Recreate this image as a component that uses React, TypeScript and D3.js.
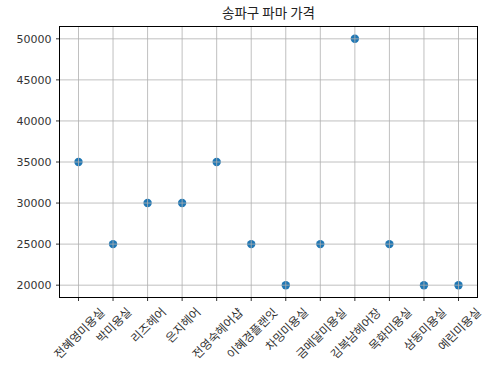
import React from "react";
import * as d3 from "d3";

const categories = [
  "전혜영미용실", "박미용실", "리즈헤어", "은지헤어", "전영숙헤어샵", "이혜경플랜잇",
  "차밍미용실", "금메달미용실", "김복남헤어장", "목화미용실", "삼동미용실", "예린미용실",
];
const prices = [35000, 25000, 30000, 30000, 35000, 25000, 20000, 25000, 50000, 25000, 20000, 20000];
const yTicks = [20000, 25000, 30000, 35000, 40000, 45000, 50000];
const title = "송파구 파마 가격";

const W = 501, H = 376;
const M = { left: 59.5, right: 477.5, top: 26.5, bottom: 297.5 };
const KFONT = "'Noto Sans CJK KR', sans-serif";
const NFONT = "'DejaVu Sans', sans-serif";

export default function App() {
  const n = categories.length;
  const x = d3.scaleLinear().domain([-0.55, n - 1 + 0.55]).range([M.left, M.right]);
  const yMin = d3.min(prices)!, yMax = d3.max(prices)!;
  const pad = (yMax - yMin) * 0.05;
  const y = d3.scaleLinear().domain([yMin - pad, yMax + pad]).range([M.bottom, M.top]);
  const fs = 11.8;
  return (
    <svg width={W} height={H} style={{ position: "absolute", left: 0, top: 0, background: "#fff" }}>
      <text x={(M.left + M.right) / 2} y={18} textAnchor="middle" fontSize={13.5} fill="#222" fontFamily={KFONT}>{title}</text>
      {prices.map((v, i) => (
        <circle key={i} cx={x(i)} cy={y(v)} r={4.2} fill="#1f77b4" />
      ))}
      {categories.map((_, i) => (
        <line key={"gx" + i} x1={x(i)} x2={x(i)} y1={M.top} y2={M.bottom} stroke="#b0b0b0" strokeWidth={0.8} />
      ))}
      {yTicks.map((t) => (
        <line key={"gy" + t} x1={M.left} x2={M.right} y1={y(t)} y2={y(t)} stroke="#b0b0b0" strokeWidth={0.8} />
      ))}
      <rect x={M.left} y={M.top} width={M.right - M.left} height={M.bottom - M.top} fill="none" stroke="#000" strokeWidth={1} />
      {yTicks.map((t) => (
        <g key={"ty" + t}>
          <line x1={M.left - 3.5} x2={M.left} y1={y(t)} y2={y(t)} stroke="#000" strokeWidth={0.8} />
          <text x={M.left - 8} y={y(t)} dy="0.36em" textAnchor="end" fontSize={11} fill="#333" fontFamily={NFONT}>{t}</text>
        </g>
      ))}
      {categories.map((c, i) => {
        const w = c.length * fs;
        const half = ((w + fs * 1.2) * Math.SQRT1_2) / 2;
        const cx = x(i);
        const cy = M.bottom + 5 + half;
        return (
          <g key={"tx" + i}>
            <line x1={cx} x2={cx} y1={M.bottom} y2={M.bottom + 3.5} stroke="#000" strokeWidth={0.8} />
            <text x={cx} y={cy} textAnchor="middle" dominantBaseline="central" fontSize={fs} fill="#333"
              fontFamily={KFONT} transform={`rotate(-45 ${cx} ${cy})`}>{c}</text>
          </g>
        );
      })}
    </svg>
  );
}
